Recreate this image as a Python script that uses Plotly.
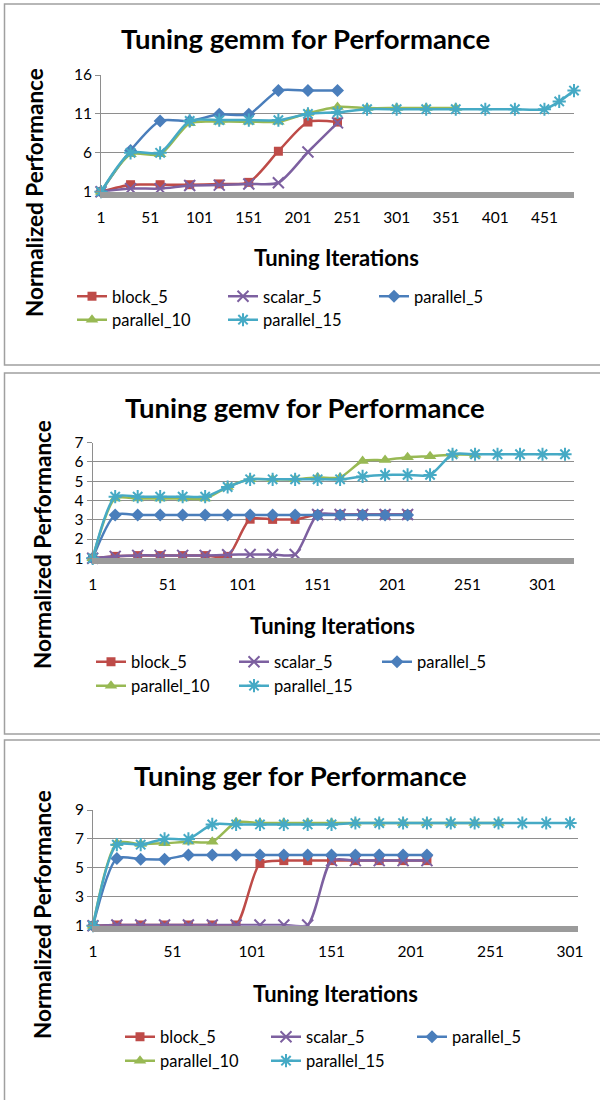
import plotly.graph_objects as go

W, H = 600, 1100

# ---------------- data ----------------
series_names = ["block_5", "scalar_5", "parallel_5", "parallel_10", "parallel_15"]

# gemm
gemm_x_short = [1, 31, 61, 91, 121, 151, 181, 211, 241]
gemm_x_p10 = [1, 31, 61, 91, 121, 151, 181, 211, 241, 271, 301, 331, 361]
gemm_x_p15 = [1, 31, 61, 91, 121, 151, 181, 211, 241, 271, 301, 331, 361, 391, 421, 451, 466, 481]
gemm_block_5 = [1.0, 1.9, 1.9, 1.9, 2.0, 2.2, 6.2, 9.95, 9.95]
gemm_scalar_5 = [1.0, 1.4, 1.4, 1.8, 1.85, 2.0, 2.15, 6.1, 9.85]
gemm_parallel_5 = [1.0, 6.3, 10.1, 10.1, 10.95, 10.95, 14.0, 14.0, 14.0]
gemm_parallel_10 = [1.0, 5.8, 5.8, 9.8, 10.0, 10.0, 10.0, 11.1, 11.9, 11.75, 11.75, 11.75, 11.75]
gemm_parallel_15 = [1.0, 6.0, 6.0, 10.1, 10.2, 10.2, 10.2, 11.0, 11.2, 11.6, 11.6, 11.6, 11.6,
                    11.6, 11.6, 11.6, 12.6, 14.0]

# gemv
gemv_x_short = [1, 16, 31, 46, 61, 76, 91, 106, 121, 136, 151, 166, 181, 196, 211]
gemv_x_p10 = [1, 16, 31, 46, 61, 76, 91, 106, 121, 136, 151, 166, 181, 196, 211, 226, 241, 256]
gemv_x_p15 = [1, 16, 31, 46, 61, 76, 91, 106, 121, 136, 151, 166, 181, 196, 211, 226, 241, 256,
              271, 286, 301, 316]
gemv_block_5 = [1.0, 1.1, 1.14, 1.14, 1.14, 1.14, 1.1, 3.03, 3.02, 3.02, 3.27, 3.27, 3.27, 3.27, 3.27]
gemv_scalar_5 = [1.0, 1.1, 1.15, 1.15, 1.15, 1.15, 1.18, 1.2, 1.2, 1.2, 3.27, 3.27, 3.27, 3.27, 3.27]
gemv_parallel_5 = [1.0, 3.25, 3.25, 3.25, 3.25, 3.25, 3.25, 3.25, 3.25, 3.25, 3.25, 3.25, 3.25, 3.25, 3.25]
gemv_parallel_10 = [1.0, 4.1, 4.1, 4.1, 4.1, 4.1, 4.7, 5.1, 5.1, 5.1, 5.2, 5.2, 6.05, 6.1, 6.25, 6.3,
                    6.38, 6.38]
gemv_parallel_15 = [1.0, 4.2, 4.2, 4.2, 4.2, 4.2, 4.7, 5.1, 5.1, 5.1, 5.1, 5.1, 5.25, 5.33, 5.33, 5.33,
                    6.4, 6.4, 6.4, 6.4, 6.4, 6.4]

# ger
ger_x_short = [1, 16, 31, 46, 61, 76, 91, 106, 121, 136, 151, 166, 181, 196, 211]
ger_x_p10 = [1, 16, 31, 46, 61, 76, 91, 106, 121, 136, 151, 166, 181, 196, 211, 226, 241, 256]
ger_x_p15 = [1, 16, 31, 46, 61, 76, 91, 106, 121, 136, 151, 166, 181, 196, 211, 226, 241, 256,
             271, 286, 301]
ger_block_5 = [1.0, 1.05, 1.05, 1.05, 1.05, 1.05, 1.05, 5.3, 5.5, 5.5, 5.5, 5.5, 5.5, 5.5, 5.5]
ger_scalar_5 = [1.0, 1.05, 1.05, 1.05, 1.05, 1.05, 1.05, 1.05, 1.05, 1.05, 5.5, 5.5, 5.5, 5.5, 5.5]
ger_parallel_5 = [1.0, 5.65, 5.6, 5.6, 5.88, 5.88, 5.88, 5.88, 5.88, 5.88, 5.88, 5.88, 5.88, 5.88, 5.88]
ger_parallel_10 = [1.0, 6.7, 6.65, 6.7, 6.8, 6.8, 8.15, 8.1, 8.1, 8.1, 8.1, 8.1, 8.1, 8.1, 8.1, 8.1,
                   8.1, 8.1]
ger_parallel_15 = [1.0, 6.6, 6.6, 7.0, 7.0, 8.0, 8.0, 8.0, 8.0, 8.0, 8.0, 8.1, 8.1, 8.1, 8.1, 8.1,
                   8.1, 8.1, 8.1, 8.1, 8.1]

x_tick_vals_gemm = [1, 51, 101, 151, 201, 251, 301, 351, 401, 451]
x_tick_vals_gemv = [1, 51, 101, 151, 201, 251, 301]
x_tick_vals_ger = [1, 51, 101, 151, 201, 251, 301]
y_ticks_gemm = [1, 6, 11, 16]
y_ticks_gemv = [1, 2, 3, 4, 5, 6, 7]
y_ticks_ger = [1, 3, 5, 7, 9]

titles = ["Tuning gemm for Performance", "Tuning gemv for Performance", "Tuning ger for Performance"]
x_title = "Tuning Iterations"
y_title = "Normalized Performance"

# ---------------- styles ----------------
colors = ["#BE4B48", "#7D60A0", "#4A7EBB", "#98B954", "#46AAC5"]
symbols = ["square", "x-thin-open", "diamond", "triangle-up", "asterisk-open"]
msizes = [9, 11, 10, 11, 11]
FONT = "Lato"

panels = [
    dict(xs=[gemm_x_short, gemm_x_short, gemm_x_short, gemm_x_p10, gemm_x_p15],
         ys=[gemm_block_5, gemm_scalar_5, gemm_parallel_5, gemm_parallel_10, gemm_parallel_15],
         xticks=x_tick_vals_gemm, yticks=y_ticks_gemm, xr=[1, 481], yr=[1, 16],
         px=(101, 574), py=(75, 191.7), box=(4, 365),
         title_y=38, title_x=305, xt_y=257, xt_x=336, yt_x=35, yt_y=193,
         leg_x=72, leg_y=(296.5, 320), leg_w=151),
    dict(xs=[gemv_x_short, gemv_x_short, gemv_x_short, gemv_x_p10, gemv_x_p15],
         ys=[gemv_block_5, gemv_scalar_5, gemv_parallel_5, gemv_parallel_10, gemv_parallel_15],
         xticks=x_tick_vals_gemv, yticks=y_ticks_gemv, xr=[1, 322], yr=[1, 7],
         px=(92.7, 574), py=(442.7, 558.3), box=(373, 734),
         title_y=407, title_x=305, xt_y=625, xt_x=332, yt_x=42, yt_y=545,
         leg_x=91, leg_y=(662, 686), leg_w=143),
    dict(xs=[ger_x_short, ger_x_short, ger_x_short, ger_x_p10, ger_x_p15],
         ys=[ger_block_5, ger_scalar_5, ger_parallel_5, ger_parallel_10, ger_parallel_15],
         xticks=x_tick_vals_ger, yticks=y_ticks_ger, xr=[1, 306], yr=[1, 9],
         px=(93, 578), py=(810, 925.7), box=(740, 1110),
         title_y=775, title_x=300, xt_y=993, xt_x=335, yt_x=42, yt_y=915,
         leg_x=120, leg_y=(1037, 1061), leg_w=146),
]


def pxx(v):
    return v / W


def pyy(v):
    return 1 - v / H


fig = go.Figure()
layout = dict(width=W, height=H, margin=dict(l=0, r=0, t=0, b=0, autoexpand=False),
              paper_bgcolor="white", plot_bgcolor="white", showlegend=True,
              font=dict(family=FONT, color="#000000"))
annotations = []
shapes = []

for i, p in enumerate(panels):
    ax = "" if i == 0 else str(i + 1)
    leg1 = "legend" if i == 0 else "legend" + str(2 * i + 1)
    leg2 = "legend" + str(2 * i + 2)
    for k in range(5):
        mline = dict(width=2, color=colors[k]) if symbols[k].endswith("open") else dict(width=0)
        fig.add_trace(go.Scatter(
            x=p["xs"][k], y=p["ys"][k], name=series_names[k], mode="lines+markers",
            line=dict(color=colors[k], width=2.5, shape="spline", smoothing=0.7),
            marker=dict(symbol=symbols[k], size=msizes[k], color=colors[k], line=mline),
            xaxis="x" + ax, yaxis="y" + ax, cliponaxis=False,
            legend=leg1 if k < 3 else leg2,
        ))
    layout["xaxis" + ax] = dict(
        domain=[pxx(p["px"][0]), pxx(p["px"][1])], range=p["xr"], anchor="y" + ax,
        tickvals=p["xticks"], ticktext=[str(t) for t in p["xticks"]],
        showgrid=False, zeroline=False, showline=True, linecolor="#9B9B9B", linewidth=6,
        ticks="", ticklabelstandoff=7, tickfont=dict(size=15.5, family=FONT, color="#000"),
        automargin=False,
    )
    layout["yaxis" + ax] = dict(
        domain=[pyy(p["py"][1]), pyy(p["py"][0])], range=p["yr"], anchor="x" + ax,
        tickvals=p["yticks"], ticktext=[str(t) for t in p["yticks"]],
        showgrid=True, gridcolor="#8E8E8E", gridwidth=1.3, zeroline=False,
        showline=True, linecolor="#8E8E8E", linewidth=1,
        ticks="outside", ticklen=5, tickcolor="#8E8E8E", tickwidth=1,
        tickfont=dict(size=15.5, family=FONT, color="#000"), automargin=False,
    )
    for j, nm in enumerate([leg1, leg2]):
        layout[nm] = dict(
            orientation="h", x=pxx(p["leg_x"]), xanchor="left",
            y=pyy(p["leg_y"][j]), yanchor="middle",
            entrywidth=p["leg_w"] - 45, entrywidthmode="pixels",
            font=dict(size=16.5, family=FONT, color="#000"),
            bgcolor="rgba(0,0,0,0)", borderwidth=0, itemwidth=30,
            tracegroupgap=0,
        )
    annotations.append(dict(text="<b>" + titles[i] + "</b>", x=pxx(p["title_x"]), y=pyy(p["title_y"]),
                            xref="paper", yref="paper", showarrow=False, xanchor="center", yanchor="middle",
                            font=dict(size=27.5, family=FONT, color="#000")))
    annotations.append(dict(text="<b>" + x_title + "</b>", x=pxx(p["xt_x"]), y=pyy(p["xt_y"]),
                            xref="paper", yref="paper", showarrow=False, xanchor="center", yanchor="middle",
                            font=dict(size=22, family=FONT, color="#000")))
    annotations.append(dict(text="<b>" + y_title + "</b>", x=pxx(p["yt_x"]), y=pyy(p["yt_y"]),
                            xref="paper", yref="paper", showarrow=False, xanchor="center", yanchor="middle",
                            textangle=-90, font=dict(size=22.5, family=FONT, color="#000")))
    shapes.append(dict(type="rect", xref="paper", yref="paper",
                       x0=pxx(4.5), x1=pxx(620), y0=pyy(p["box"][1]), y1=pyy(p["box"][0]),
                       line=dict(color="#A0A0A0", width=1.5), fillcolor="rgba(0,0,0,0)", layer="below"))

layout["annotations"] = annotations
layout["shapes"] = shapes
fig.update_layout(**layout)
fig.write_html("out.html")
